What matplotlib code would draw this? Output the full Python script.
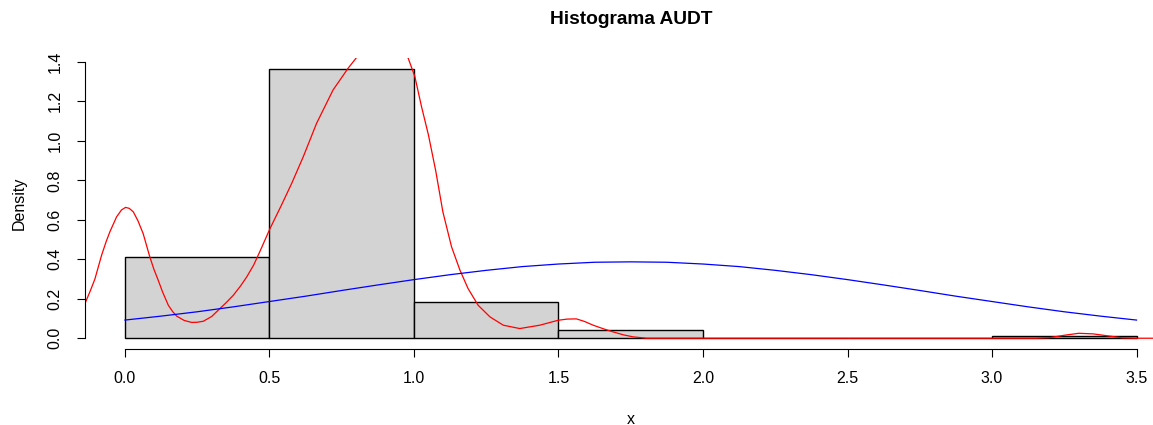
import matplotlib
matplotlib.use('Agg')
import matplotlib.pyplot as plt
import numpy as np

plt.rcParams['font.family'] = ['Liberation Sans', 'DejaVu Sans']

# histograma (densidad por clase)
breaks = [0.0, 0.5, 1.0, 1.5, 2.0, 2.5, 3.0, 3.5]
density = [0.41, 1.365, 0.183, 0.04, 0.0, 0.0, 0.01]

# curva normal (azul)
norm_x = [0.0, 0.125, 0.25, 0.375, 0.5, 0.625, 0.75, 0.875, 1.0, 1.125, 1.25, 1.375, 1.5, 1.625, 1.75,
          1.875, 2.0, 2.125, 2.25, 2.375, 2.5, 2.625, 2.75, 2.875, 3.0, 3.125, 3.25, 3.375, 3.5]
norm_y = [0.092, 0.112, 0.134, 0.159, 0.186, 0.213, 0.242, 0.270, 0.297, 0.322, 0.344, 0.363, 0.376, 0.385, 0.387,
          0.385, 0.376, 0.363, 0.344, 0.322, 0.297, 0.270, 0.242, 0.213, 0.186, 0.159, 0.134, 0.112, 0.092]

# densidad kernel (roja)
kde_x = [-0.14, -0.12, -0.104, -0.081, -0.065, -0.052, -0.029, -0.012, 0.002, 0.015, 0.029, 0.045, 0.063,
         0.086, 0.10, 0.115, 0.13, 0.15, 0.165, 0.179, 0.205, 0.231, 0.25, 0.271, 0.30, 0.329, 0.35, 0.375,
         0.40, 0.421, 0.445, 0.467, 0.502, 0.54, 0.577, 0.617, 0.663, 0.72, 0.772, 0.80, 0.84, 0.88, 0.92,
         0.95, 0.98, 1.003, 1.026, 1.05, 1.075, 1.10, 1.13, 1.159, 1.187, 1.222, 1.263, 1.309, 1.366, 1.435,
         1.499, 1.53, 1.562, 1.59, 1.62, 1.655, 1.689, 1.725, 1.758, 1.805, 3.15, 3.2, 3.25, 3.3, 3.35,
         3.4, 3.45, 3.5, 3.64]
kde_y = [0.17, 0.24, 0.30, 0.42, 0.49, 0.54, 0.615, 0.65, 0.663, 0.658, 0.64, 0.595, 0.53,
         0.412, 0.35, 0.294, 0.235, 0.167, 0.135, 0.112, 0.09, 0.080, 0.081, 0.086, 0.11, 0.151, 0.18, 0.218,
         0.265, 0.31, 0.37, 0.44, 0.556, 0.67, 0.785, 0.92, 1.089, 1.258, 1.368, 1.42, 1.50, 1.54, 1.53,
         1.49, 1.419, 1.326, 1.174, 1.03, 0.85, 0.64, 0.463, 0.345, 0.252, 0.167, 0.108, 0.066, 0.049, 0.066,
         0.091, 0.097, 0.098, 0.085, 0.066, 0.048, 0.032, 0.017, 0.007, 0.0, 0.0, 0.003, 0.015, 0.025, 0.022,
         0.012, 0.002, 0.0, 0.0]

fig = plt.figure(figsize=(11.53, 4.25), dpi=100)
ax = fig.add_axes([84.5 / 1153, 1 - 349 / 425, (1177 - 84.5) / 1153, (349 - 58) / 425])

left = np.array(breaks[:-1])
width = np.diff(breaks)
ax.bar(left, density, width=width, align='edge', color='#D3D3D3', edgecolor='black', linewidth=1)
ax.plot(kde_x, kde_y, color='red', lw=0.9)
ax.plot(norm_x, norm_y, color='blue', lw=0.9)

ax.set_xlim(-0.14, 3.64)
ax.set_ylim(-0.0546, 1.42)
ax.set_xticks(breaks)
ax.set_xticklabels([f'{b:.1f}' for b in breaks])
ax.set_yticks([0.0, 0.2, 0.4, 0.6, 0.8, 1.0, 1.2, 1.4])
ax.set_yticklabels(['0.0', '0.2', '0.4', '0.6', '0.8', '1.0', '1.2', '1.4'], rotation=90, va='center')

for s in ['top', 'right']:
    ax.spines[s].set_visible(False)
ax.spines['bottom'].set_bounds(0, 3.5)
ax.spines['left'].set_bounds(0, 1.4)
ax.tick_params(length=6, width=0.8, labelsize=11.5)
ax.tick_params(axis='x', pad=10)
ax.tick_params(axis='y', pad=10)

fig.text(631 / 1153, 1 - 20 / 425, 'Histograma AUDT', ha='center', va='center', fontsize=13.8, fontweight='bold')
fig.text(631 / 1153, 1 - 419 / 425, 'x', ha='center', va='center', fontsize=11.5)
fig.text(19 / 1153, 1 - 203 / 425, 'Density', ha='center', va='center', fontsize=11.5, rotation=90)

fig.savefig('out.png', dpi=100)
